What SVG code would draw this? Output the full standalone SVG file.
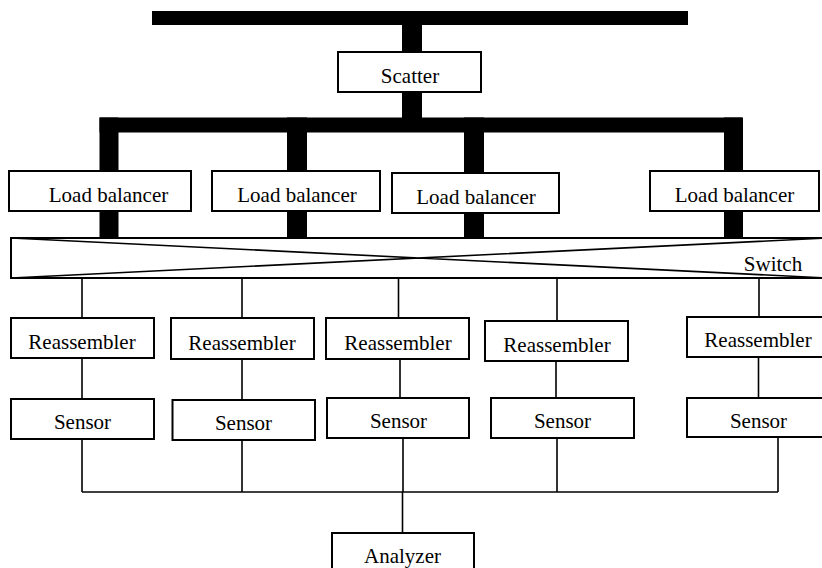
<svg xmlns="http://www.w3.org/2000/svg" width="822" height="568" viewBox="0 0 822 568">
<style>
.box{fill:#fff;stroke:#000;stroke-width:2}
.t{font-family:'Liberation Serif','Times New Roman','DejaVu Serif',serif;font-size:21px;fill:#000;text-anchor:middle}
.thin{stroke:#000;stroke-width:1.6;fill:none}
.thick{fill:#000}
</style>
<rect width="822" height="568" fill="#fff"/>
<g id="connectors">
<rect class="thick" x="152" y="11" width="536" height="14"/>
<rect class="thick" x="402" y="25" width="20" height="95"/>
<rect class="thick" x="99.5" y="117.5" width="642.5" height="15"/>
<rect class="thick" x="99.5" y="117.5" width="19" height="121"/>
<rect class="thick" x="287" y="117.5" width="20" height="121"/>
<rect class="thick" x="464" y="117.5" width="20" height="121"/>
<rect class="thick" x="724" y="117.5" width="19" height="121"/>
<path class="thin" d="M82 279V318M242 279V318M398.5 279V318M557 279V321M759 279V317"/>
<path class="thin" d="M82 358V399M242 359V400M400 359V398M556 361V398M758.5 357V398"/>
<path class="thin" d="M82 439V492M242 440V492M403 438V492M557 438V492M778 437V492M82 492H778M402.5 492V533"/>
</g>
<g id="scatter"><rect class="box" x="338" y="52" width="143" height="40"/><text class="t" x="410" y="83" font-family="Liberation Serif, serif">Scatter</text></g>
<g id="lb1"><rect class="box" x="9" y="171" width="182" height="40"/><text class="t" x="108.5" y="202">Load balancer</text></g>
<g id="lb2"><rect class="box" x="212" y="171" width="168" height="40"/><text class="t" x="297" y="202">Load balancer</text></g>
<g id="lb3"><rect class="box" x="392" y="173" width="167" height="40"/><text class="t" x="476" y="204">Load balancer</text></g>
<g id="lb4"><rect class="box" x="650" y="171" width="169" height="40"/><text class="t" x="734.5" y="202">Load balancer</text></g>
<g id="switch">
<rect class="box" x="11" y="238" width="816" height="40"/>
<path class="thin" d="M11 238L827 278M11 278L827 238"/>
<text class="t" x="773" y="271">Switch</text>
</g>
<g id="r1"><rect class="box" x="11" y="318" width="143" height="40"/><text class="t" x="82" y="349">Reassembler</text></g>
<g id="r2"><rect class="box" x="171" y="318" width="143" height="41"/><text class="t" x="242" y="349.5">Reassembler</text></g>
<g id="r3"><rect class="box" x="326" y="318" width="143" height="41"/><text class="t" x="398" y="349.5">Reassembler</text></g>
<g id="r4"><rect class="box" x="485" y="321" width="143" height="40"/><text class="t" x="557" y="352">Reassembler</text></g>
<g id="r5"><rect class="box" x="687" y="317" width="143" height="40"/><text class="t" x="758" y="347">Reassembler</text></g>
<g id="s1"><rect class="box" x="11" y="399" width="143" height="40"/><text class="t" x="82.5" y="429">Sensor</text></g>
<g id="s2"><rect class="box" x="172.5" y="400" width="142.5" height="40"/><text class="t" x="243.5" y="430">Sensor</text></g>
<g id="s3"><rect class="box" x="327" y="398" width="142" height="40"/><text class="t" x="398.5" y="428">Sensor</text></g>
<g id="s4"><rect class="box" x="491" y="398" width="143" height="40"/><text class="t" x="562.5" y="428">Sensor</text></g>
<g id="s5"><rect class="box" x="687" y="398" width="143" height="39"/><text class="t" x="758.5" y="427.5">Sensor</text></g>
<g id="analyzer"><rect class="box" x="332" y="533" width="142" height="47"/><text class="t" x="402.5" y="563">Analyzer</text></g>
</svg>
